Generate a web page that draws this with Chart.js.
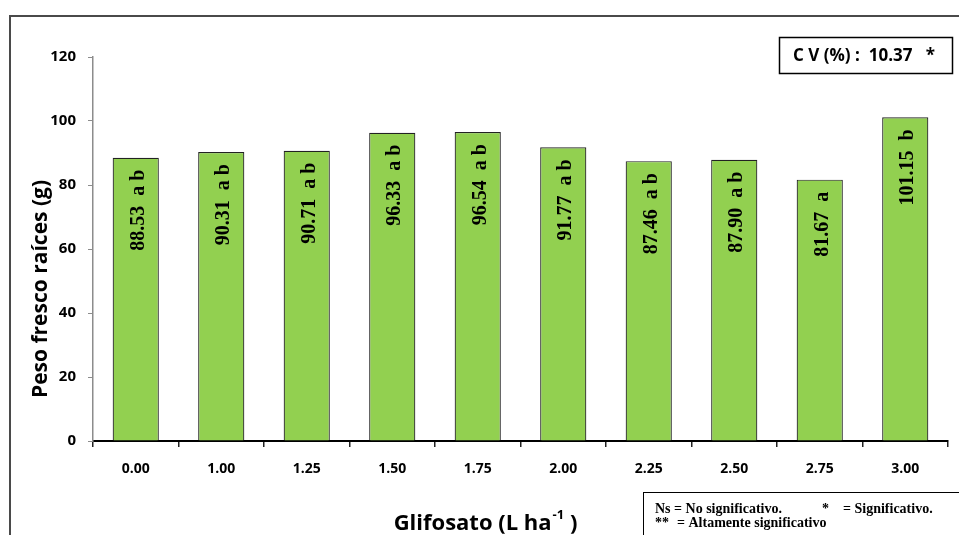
<!DOCTYPE html>
<html>
<head>
<meta charset="utf-8">
<script src="https://cdn.jsdelivr.net/npm/chart.js@4/dist/chart.umd.min.js"></script>
<style>
  html, body { margin: 0; padding: 0; background: #ffffff; }
  #wrap { width: 959px; height: 535px; }
</style>
</head>
<body>
<div id="wrap"><canvas id="c" width="959" height="535"></canvas></div>
<script>
// Glyphosate doses (L/ha) on the x axis
const categories = ["0.00", "1.00", "1.25", "1.50", "1.75", "2.00", "2.25", "2.50", "2.75", "3.00"];
// Mean root fresh weight (g) for each dose
const values = [88.53, 90.31, 90.71, 96.33, 96.54, 91.77, 87.46, 87.90, 81.67, 101.15];
// Tukey grouping letters for each dose
const groups = ["a b", "a b", "a b", "a b", "a b", "a b", "a b", "a b", "a", "b"];
// Y axis tick values
const yTicks = [0, 20, 40, 60, 80, 100, 120];
const cvValue = "10.37";
const cvMark = "*";

const SANS = "'Open Sans', 'Noto Sans', sans-serif";
const SERIF = "'Liberation Serif', 'DejaVu Serif', serif";

const decorations = {
  id: 'decorations',
  beforeDraw(chart) {
    const ctx = chart.ctx;
    ctx.save();
    ctx.fillStyle = '#ffffff';
    ctx.fillRect(0, 0, chart.width, chart.height);
    ctx.restore();
  },
  afterDatasetsDraw(chart) {
    // value + group letters written vertically inside each bar
    const ctx = chart.ctx;
    const meta = chart.getDatasetMeta(0);
    ctx.save();
    ctx.fillStyle = '#000000';
    ctx.font = 'bold 20px ' + SERIF;
    ctx.textAlign = 'right';
    ctx.textBaseline = 'alphabetic';
    meta.data.forEach((bar, i) => {
      const txt = values[i].toFixed(2) + '  ' + groups[i];
      ctx.save();
      ctx.translate(bar.x + 8, bar.y + 12);
      ctx.rotate(-Math.PI / 2);
      ctx.fillText(txt, 0, 0);
      ctx.restore();
    });
    ctx.restore();
  },
  afterDraw(chart) {
    const ctx = chart.ctx;
    ctx.save();

    // outer frame
    ctx.strokeStyle = '#4a4a4a';
    ctx.lineWidth = 2;
    ctx.strokeRect(10, 16, 1000, 600);

    // y axis title
    ctx.fillStyle = '#000000';
    ctx.font = 'bold 21px ' + SANS;
    ctx.textAlign = 'center';
    ctx.textBaseline = 'middle';
    ctx.save();
    ctx.translate(41, 289);
    ctx.rotate(-Math.PI / 2);
    ctx.fillText('Peso fresco raíces (g)', 0, 0);
    ctx.restore();

    // x axis title with superscript
    const main = 'Glifosato (L ha';
    const sup = '-1';
    const tail = ' )';
    ctx.textAlign = 'left';
    ctx.textBaseline = 'alphabetic';
    ctx.font = 'bold 22px ' + SANS;
    const wMain = ctx.measureText(main).width;
    const wTail = ctx.measureText(tail).width;
    ctx.font = 'bold 13px ' + SANS;
    const wSup = ctx.measureText(sup).width;
    let x = 485 - (wMain + wSup + wTail) / 2;
    ctx.font = 'bold 22px ' + SANS;
    ctx.fillText(main, x, 530);
    x += wMain;
    ctx.font = 'bold 13px ' + SANS;
    ctx.fillText(sup, x + 1, 519);
    x += wSup + 1;
    ctx.font = 'bold 22px ' + SANS;
    ctx.fillText(tail, x, 530);

    // coefficient of variation box
    ctx.strokeStyle = '#000000';
    ctx.lineWidth = 1.5;
    ctx.strokeRect(779.5, 37.5, 173, 36);
    ctx.font = 'bold 17px ' + SANS;
    ctx.textAlign = 'center';
    ctx.textBaseline = 'middle';
    ctx.fillText('C V (%) :  ' + cvValue + '   ' + cvMark, 864, 56);

    // significance note box
    ctx.lineWidth = 1;
    ctx.strokeRect(643.5, 492.5, 400, 100);
    ctx.font = 'bold 14px ' + SERIF;
    ctx.textAlign = 'left';
    ctx.textBaseline = 'alphabetic';
    ctx.fillText('Ns = No significativo.', 655, 513);
    ctx.fillText('*', 822, 513);
    ctx.fillText('= Significativo.', 843, 513);
    ctx.fillText('**', 655, 527);
    ctx.fillText('= Altamente significativo', 677, 527);

    ctx.restore();
  }
};

new Chart(document.getElementById('c'), {
  type: 'bar',
  data: {
    labels: categories,
    datasets: [{
      data: values,
      backgroundColor: '#92D050',
      borderColor: '#222222',
      borderWidth: 1.2,
      barPercentage: 0.54,
      categoryPercentage: 1.0
    }]
  },
  options: {
    responsive: false,
    animation: false,
    devicePixelRatio: 1,
    layout: { padding: { left: 0, top: 57, right: 11, bottom: 0 } },
    plugins: {
      legend: { display: false },
      tooltip: { enabled: false },
      title: { display: false }
    },
    scales: {
      x: {
        offset: true,
        grid: {
          offset: true,
          drawOnChartArea: false,
          drawTicks: true,
          tickLength: 6,
          color: '#222222',
          lineWidth: 1.5
        },
        border: { display: true, color: '#000000', width: 2 },
        ticks: {
          color: '#000000',
          font: { family: SANS, size: 14, weight: 'bold' },
          padding: 14,
          maxRotation: 0,
          autoSkip: false
        },
        afterFit(scale) { scale.height = 94; }
      },
      y: {
        min: 0,
        max: 120,
        afterBuildTicks(scale) { scale.ticks = yTicks.map(v => ({ value: v })); },
        grid: {
          drawOnChartArea: false,
          drawTicks: true,
          tickLength: 5,
          color: '#8c8c8c',
          lineWidth: 1
        },
        border: { display: true, color: '#8c8c8c', width: 1.5 },
        ticks: {
          color: '#000000',
          font: { family: SANS, size: 15, weight: 'bold' },
          padding: 12
        },
        afterFit(scale) { scale.width = 93; }
      }
    }
  },
  plugins: [decorations]
});
</script>
</body>
</html>
